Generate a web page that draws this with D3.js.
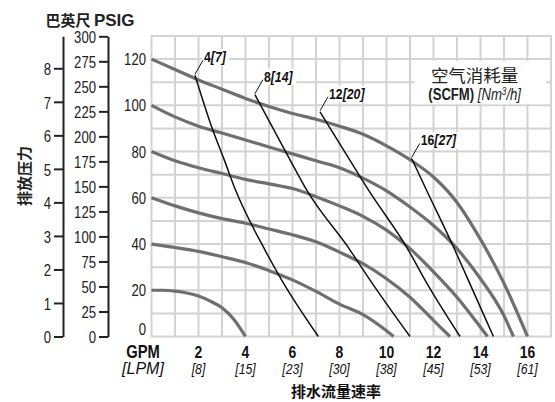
<!DOCTYPE html>
<html><head><meta charset="utf-8">
<script src="https://cdn.jsdelivr.net/npm/d3@7"></script>
<style>
body{margin:0;background:#fff;}
svg{display:block;}
.nar{font-family:"Liberation Sans Narrow","Arial Narrow","Liberation Sans",sans-serif;}
.cjk{font-family:"Noto Sans CJK SC",sans-serif;}
</style></head><body>
<svg id="c" width="555" height="402"></svg>
<script>
// ---- data ----
const gpmTicks = [2,4,6,8,10,12,14,16];
const lpmLabels = ["[8]","[15]","[23]","[30]","[38]","[45]","[53]","[61]"];
const psiTicks = [0,20,40,60,80,100,120];
const ftTicks = [0,25,50,75,100,125,150,175,200,225,250,275,300];
const barTicks = [0,1,2,3,4,5,6,7,8];

// discharge pressure curves (GPM, PSIG)
const curve120 = [[0,120],[1,115.5],[2,111],[3,107],[4,103],[5,99.5],[6,96.5],[7,94],[8,91],[9,87.5],[10,82.5],[11,76.5],[12,69],[13,58],[14,42],[15,23],[16,0]];
const curve100 = [[0,100],[1,95],[2,91],[3,88],[4,85],[5,82],[6,79],[7,76],[8,73],[9,68.5],[10,63],[11,56],[12,48],[13,38],[14,25],[15,9],[15.4,0]];
const curve80  = [[0,80],[1,76],[2,73],[3,70.5],[4,68],[5,66],[6,64],[7,60.5],[8,56.5],[9,52],[10,46],[11,38],[12,28],[13,17],[14,4],[14.3,0]];
const curve60  = [[0,60],[1,56.5],[2,53.5],[3,51],[4,49],[5,46.5],[6,44],[7,41],[8,36.5],[9,31.5],[10,25],[11,17],[12,7],[12.7,0]];
const curve40  = [[0,40],[1,38.5],[2,36.8],[3,34.5],[4,32],[5,28.5],[6,24.5],[7,19.5],[8,14],[9,9.5],[10,2.5],[10.3,0]];
const curve20  = [[0,20],[0.5,20],[1,19.6],[1.5,18.8],[2,17.5],[2.5,15.3],[3,12.4],[3.5,7.5],[4,0]];
const pressureCurves = [curve120,curve100,curve80,curve60,curve40,curve20];

// air consumption lines (GPM, PSIG)
const air4  = [[1.85,113],[2.6,89.5],[3.1,76.3],[3.55,64],[4.83,37.4],[5.54,24.4],[7.1,0]];
const air8  = [[4.4,104.6],[5.9,76.3],[6.6,63.4],[8.45,37.4],[9.3,24.4],[11.0,0]];
const air12 = [[7.17,97.2],[8.44,76.3],[9.23,63.4],[10.93,37.4],[11.64,24.4],[13.13,0]];
const air16 = [[11.07,77],[11.7,63.4],[12.91,37.4],[13.48,24.4],[14.55,0]];
const airLines = [air4,air8,air12,air16];
const airScfm = ["4","8","12","16"];
const airNm3 = ["[7]","[14]","[20]","[27]"];

// ---- drawing ----
const SX = 0.82;
function squeeze(sel){
  sel.each(function(){
    const el = d3.select(this);
    const xv = +el.attr("x") || 0;
    el.attr("transform",`translate(${xv},0) scale(${SX},1) translate(${-xv},0)`);
  });
}
const svg = d3.select("#c");
const x = d3.scaleLinear().domain([0,17]).range([151.5,551]);
const y = d3.scaleLinear().domain([0,130]).range([336.5,36]);
const ft = d3.scaleLinear().domain([0,300]).range([y(0), y(300/2.31)]);
const bar = d3.scaleLinear().domain([0,300/2.31/14.5038]).range([y(0), y(300/2.31)]);

// grid
const g = svg.append("g");
g.selectAll("line.v").data(d3.range(0,18)).join("line")
  .attr("x1",d=>x(d)).attr("x2",d=>x(d)).attr("y1",y(0)).attr("y2",y(130))
  .attr("stroke","#d3d3d3").attr("stroke-width",2);
g.selectAll("line.h").data(d3.range(0,140,10)).join("line")
  .attr("x1",x(0)-1).attr("x2",x(17)+1).attr("y1",d=>y(d)).attr("y2",d=>y(d))
  .attr("stroke","#d3d3d3").attr("stroke-width",2);

// white box behind legend title
svg.append("rect").attr("x",x(11.2)).attr("y",y(119.2)).attr("width",x(16.8)-x(11.2)).attr("height",y(100.5)-y(119.2)).attr("fill","#fff");
svg.append("text").attr("class","cjk").attr("x",x(13.75)).attr("y",y(110.3)).attr("text-anchor","middle")
  .attr("font-size",17.5).attr("fill","#222").text("空气消耗量");
const t2 = svg.append("text").attr("class","nar").attr("x",x(13.75)).attr("y",y(102.3)).attr("text-anchor","middle")
  .attr("font-size",16).attr("fill","#222");
t2.append("tspan").attr("font-weight","bold").text("(SCFM) ");
t2.append("tspan").attr("font-style","italic").text("[Nm");
t2.append("tspan").attr("font-style","italic").attr("font-size",10).attr("dy",-5).text("3");
t2.append("tspan").attr("font-style","italic").attr("dy",5).text("/h]");
squeeze(t2);

// pressure curves
const line = d3.line().x(d=>x(d[0])).y(d=>y(d[1])).curve(d3.curveMonotoneX);
svg.selectAll("path.p").data(pressureCurves).join("path")
  .attr("d",line).attr("fill","none").attr("stroke","#6f6f71").attr("stroke-width",3.2);

// air lines
svg.selectAll("path.a").data(airLines).join("path")
  .attr("d",line).attr("fill","none").attr("stroke","#111").attr("stroke-width",1.5);

// air labels
airLines.forEach((a,i)=>{
  const top = a[0];
  const x0 = x(top[0]), y0 = y(top[1]);
  const lx = x0+8, ly = y0-14;
  const t = svg.append("text").attr("class","nar").attr("x",lx+1).attr("y",ly+1)
    .attr("font-size",15).attr("font-weight","bold").attr("fill","#111");
  t.append("tspan").text(airScfm[i]);
  t.append("tspan").attr("font-style","italic").text(airNm3[i]);
  squeeze(t);
  const bb = t.node().getBBox();
  const w = bb.width*SX;
  svg.insert("rect", () => t.node()).attr("x",lx-1).attr("y",bb.y).attr("width",w+5).attr("height",bb.height)
    .attr("fill","#fff");
  svg.append("line").attr("x1",x0).attr("y1",y0-1).attr("x2",lx).attr("y2",ly-1)
    .attr("stroke","#111").attr("stroke-width",1);
});

// psi labels
svg.selectAll("text.psi").data(psiTicks).join("text").attr("class","nar")
  .attr("x",146).attr("y",d=>y(d)+ (d===0? -1 : 6)).attr("text-anchor","end")
  .attr("font-size",16).attr("fill","#222").text(d=>d).call(squeeze);

// ft axis
const ftAxis = svg.append("g").attr("transform","translate(108,0)")
  .call(d3.axisRight(ft).tickValues(ftTicks).tickSize(-9).tickSizeOuter(0));
ftAxis.select(".domain").attr("stroke","#222").attr("stroke-width",2);
ftAxis.selectAll(".tick line").attr("stroke","#222").attr("stroke-width",2);
ftAxis.selectAll(".tick text").attr("text-anchor","end").attr("x",-12).attr("dy","0.4em")
  .attr("class","nar").attr("font-size",16).attr("fill","#222").call(squeeze);

// bar axis
const barAxis = svg.append("g").attr("transform","translate(63,0)")
  .call(d3.axisRight(bar).tickValues(barTicks).tickSize(-9).tickSizeOuter(0));
barAxis.select(".domain").attr("stroke","#222").attr("stroke-width",2);
barAxis.selectAll(".tick line").attr("stroke","#222").attr("stroke-width",2);
barAxis.selectAll(".tick text").attr("text-anchor","end").attr("x",-12).attr("dy","0.4em")
  .attr("class","nar").attr("font-size",16).attr("fill","#222").call(squeeze);
svg.selectAll(".tick text").attr("font-family",null);

// title
const tt = svg.append("text").attr("x",90).attr("y",26).attr("text-anchor","middle").attr("font-weight","bold").attr("font-size",15).attr("fill","#222");
tt.append("tspan").attr("class","cjk").text("巴英尺 ");
tt.append("tspan").attr("class","nar").attr("font-size",17).text("PSIG");

svg.append("text").attr("class","cjk").attr("transform","translate(30,176) rotate(-90)")
  .attr("text-anchor","middle").attr("font-weight","bold").attr("font-size",15).attr("fill","#222").text("排放压力");

// x labels
svg.selectAll("text.gpm").data(gpmTicks).join("text").attr("class","nar")
  .attr("x",d=>x(d)).attr("y",358).attr("text-anchor","middle").attr("font-weight","bold")
  .attr("font-size",17).attr("fill","#111").text(d=>d).call(squeeze);
svg.selectAll("text.lpm").data(lpmLabels).join("text").attr("class","nar")
  .attr("x",(d,i)=>x(gpmTicks[i])).attr("y",374).attr("text-anchor","middle").attr("font-style","italic")
  .attr("font-size",15).attr("fill","#111").text(d=>d).call(squeeze);
svg.append("text").attr("class","nar").attr("x",143).attr("y",358).attr("text-anchor","middle").attr("font-weight","bold")
  .attr("font-size",18).attr("fill","#111").text("GPM").call(squeeze);
svg.append("text").attr("class","nar").attr("x",143).attr("y",374).attr("text-anchor","middle").attr("font-style","italic")
  .attr("font-size",16).attr("fill","#111").text("[LPM]");
svg.append("text").attr("class","cjk").attr("x",336).attr("y",397).attr("text-anchor","middle").attr("font-weight","bold")
  .attr("font-size",15).attr("fill","#111").text("排水流量速率");
</script></body></html>
